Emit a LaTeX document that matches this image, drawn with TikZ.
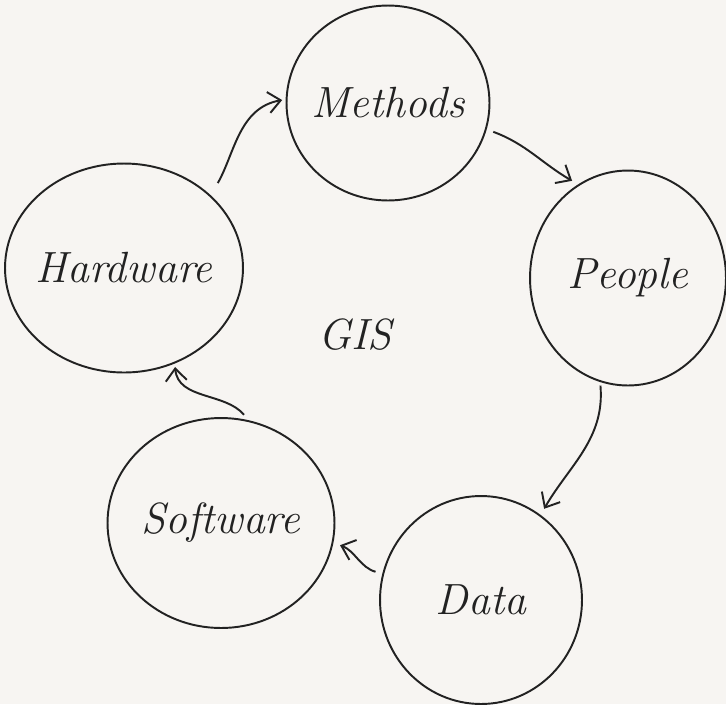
\documentclass[tikz,border=0pt]{standalone}
\usetikzlibrary{shapes.geometric,arrows.meta}
\definecolor{paper}{HTML}{F7F5F2}
\definecolor{ink}{HTML}{222222}
\begin{document}
\begin{tikzpicture}[x=0.02cm,y=-0.02cm,
  blob/.style={ellipse,draw=ink,line width=1.1pt,inner sep=-4pt,font=\Huge\itshape,text=ink},
  arr/.style={draw=ink,line width=1.1pt,-{Straight Barb[length=7pt,width=12pt]}}]
\fill[paper] (0,0) rectangle (726,704);
\useasboundingbox (0,0) rectangle (726,704);
\node[blob,minimum width=4.06cm,minimum height=3.9cm] (meth) at (388,103) {Methods};
\node[blob,minimum width=3.92cm,minimum height=4.3cm] (peop) at (628,278) {People};
\node[blob,minimum width=4.04cm,minimum height=4.16cm] (data) at (481,600) {Data};
\node[blob,minimum width=4.54cm,minimum height=4.2cm] (soft) at (221,523) {Software};
\node[blob,minimum width=4.76cm,minimum height=4.18cm] (hard) at (124,268) {Hardware};
\node[font=\Huge\itshape,text=ink] (gis) at (355,335) {GIS};
\draw[arr,shorten <=8pt,shorten >=2pt] (hard.40) to[out=60,in=190] (meth.178);
\draw[arr,shorten <=4pt,shorten >=4pt] (meth.-15) to[out=-20,in=150] (peop.118);
\draw[arr,shorten <=2pt,shorten >=4pt] (peop.-105) to[out=-85,in=60] (data.55);
\draw[arr,shorten <=4pt,shorten >=4pt] (data.165) to[out=165,in=-20] (soft.-10);
\draw[arr,shorten <=4pt,shorten >=2pt] (soft.75) to[out=130,in=-85] (hard.-62);
\end{tikzpicture}
\end{document}
